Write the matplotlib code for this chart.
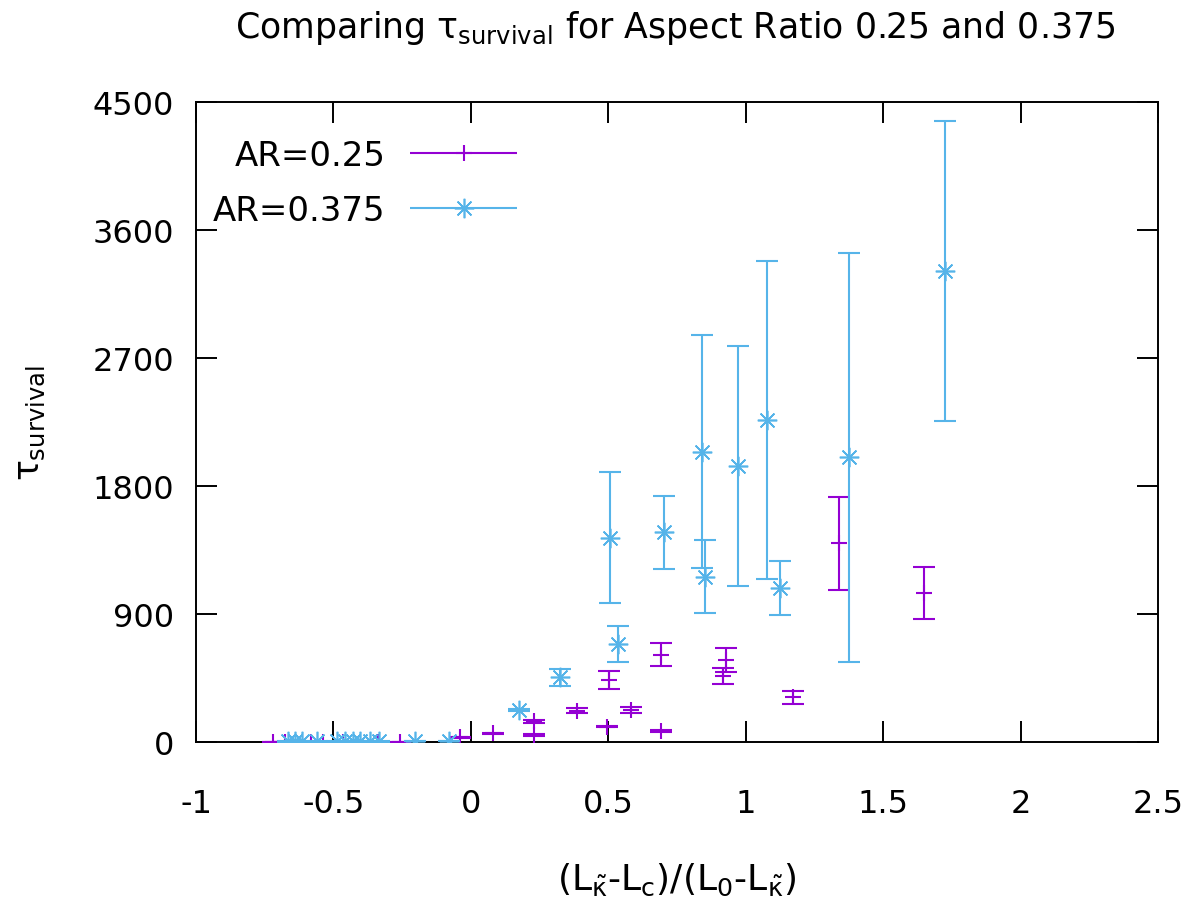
import matplotlib
matplotlib.use("Agg")
import matplotlib.pyplot as plt
from matplotlib.legend_handler import HandlerErrorbar
from matplotlib.container import ErrorbarContainer
from matplotlib.lines import Line2D

plt.rcParams['font.family'] = ['DejaVu Sans']
plt.rcParams['mathtext.fontset'] = 'custom'
plt.rcParams['mathtext.rm'] = 'DejaVu Sans'
plt.rcParams['mathtext.it'] = 'DejaVu Sans'
plt.rcParams['mathtext.sf'] = 'DejaVu Sans'
plt.rcParams['mathtext.bf'] = 'DejaVu Sans:bold'
plt.rcParams['axes.unicode_minus'] = False

# ---- data: AR = 0.25 ----
ar25_x = [-0.72, -0.678, -0.581, -0.538, -0.465, -0.338, -0.259, -0.04,
          0.081, 0.229, 0.229, 0.387, 0.496, 0.502, 0.581, 0.693, 0.693,
          0.919, 0.930, 1.171, 1.341, 1.647]
ar25_y = [2, 2, 2, 2, 2, 2, 2, 33,
          61, 145, 49, 220, 108, 436, 227, 77, 614,
          464, 576, 314, 1399, 1047]
ar25_err = [1, 1, 1, 1, 1, 1, 1, 4,
            4, 12, 4, 16, 5, 61, 20, 5, 82,
            58, 87, 45, 327, 184]

# ---- data: AR = 0.375 ----
ar375_x = [-0.664, -0.639, -0.615, -0.560, -0.487, -0.457, -0.427, -0.403,
           -0.366, -0.336, -0.202, -0.081, 0.174, 0.326, 0.536, 0.506,
           0.702, 0.840, 0.851, 0.972, 1.079, 1.125, 1.374, 1.726]
ar375_y = [4, 4, 4, 4, 4, 4, 4, 4,
           4, 4, 6, 8, 225, 455, 689, 1436,
           1474, 2041, 1162, 1942, 2266, 1085, 2001, 3309]
ar375_err = [1, 1, 1, 1, 1, 1, 1, 1,
             1, 1, 2, 2, 10, 61, 124, 460,
             257, 821, 258, 843, 1119, 189, 1439, 1055]

x_ticks = [-1, -0.5, 0, 0.5, 1, 1.5, 2, 2.5]
x_tick_labels = ['-1', '-0.5', '0', '0.5', '1', '1.5', '2', '2.5']
y_ticks = [0, 900, 1800, 2700, 3600, 4500]
series_labels = ['AR=0.25', 'AR=0.375']

purple = '#9400D3'
blue = '#56B4E9'
asterisk = (8, 2, 0)

fig = plt.figure(figsize=(11.98, 9.12), dpi=100)
ax = fig.add_axes([196/1198, 169/912, 962/1198, 640/912])

TICK_FS = 23
LEG_FS = 24.5
XLAB_FS = 26
YLAB_FS = 25
TITLE_FS = 25

ax.errorbar(ar25_x, ar25_y, yerr=ar25_err, fmt='+', color=purple, ms=12, mew=1.5,
            elinewidth=1.5, capsize=8, capthick=1.5, zorder=3)
ax.errorbar(ar375_x, ar375_y, yerr=ar375_err, fmt='none', ecolor=blue,
            elinewidth=1.5, capsize=8, capthick=1.5, zorder=4)
ax.plot(ar375_x, ar375_y, linestyle='none', marker=asterisk, color=blue, ms=14,
        mew=1.2, zorder=5)

ax.set_xlim(-1, 2.5)
ax.set_ylim(0, 4500)
ax.set_xticks(x_ticks)
ax.set_xticklabels(x_tick_labels)
ax.set_yticks(y_ticks)

for s in ax.spines.values():
    s.set_linewidth(1.4)
ax.tick_params(axis='both', direction='in', length=15, width=1.4, top=True, right=True,
               labelsize=TICK_FS)
ax.tick_params(axis='x', pad=33)
ax.tick_params(axis='y', pad=16)

ax.set_xlabel(r'(L$_{\tilde{\kappa}}$-L$_{\mathrm{c}}$)/(L$_{0}$-L$_{\tilde{\kappa}}$)',
              fontsize=XLAB_FS)
ax.xaxis.set_label_coords(0.5, (32 - 169) / 640)
ax.xaxis.label.set_va('center')
ax.set_ylabel(r'$\tau_{\mathrm{survival}}$', fontsize=YLAB_FS)
ax.yaxis.set_label_coords((30 - 196) / 962, 0.5)
ax.yaxis.label.set_va('center')

fig.text(675/1198, 1 - 28/912, r'Comparing $\tau_{\mathrm{survival}}$ for Aspect Ratio 0.25 and 0.375',
         ha='center', va='center', fontsize=TITLE_FS)

# legend proxies (horizontal error bars, gnuplot style)
p1 = ax.errorbar([], [], xerr=[], fmt='+', color=purple, ms=12, mew=1.5,
                 elinewidth=1.5, capsize=8, capthick=1.5)
p2 = ax.errorbar([], [], xerr=[], fmt='none', ecolor=blue, elinewidth=1.5,
                 capsize=8, capthick=1.5)
ast = Line2D([], [], linestyle='none', marker=asterisk, color=blue, ms=14, mew=1.2)
p2b = ErrorbarContainer((ast, p2.lines[1], p2.lines[2]), has_xerr=True, has_yerr=False)

leg = ax.legend([p1, p2b], series_labels, loc='upper right',
                bbox_to_anchor=(517/1198, 1 - 140/912), bbox_transform=fig.transFigure,
                frameon=False, markerfirst=False, fontsize=LEG_FS, borderpad=0,
                borderaxespad=0, handlelength=3.14, handletextpad=0.73,
                labelspacing=0.65,
                handler_map={ErrorbarContainer: HandlerErrorbar(xerr_size=1.57, numpoints=1)})

fig.savefig('out.png', dpi=100)
